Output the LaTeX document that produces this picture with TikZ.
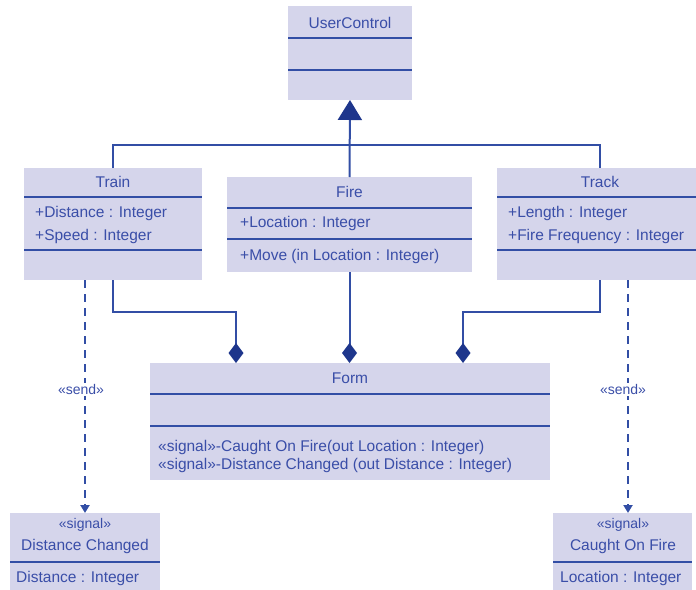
\documentclass[tikz,border=0pt]{standalone}
\usepackage{fontspec}
\newfontfamily\umlsf{Liberation Sans}
\usepackage{xcolor}
\usetikzlibrary{
	arrows.meta,
	positioning,
	calc
}
\definecolor{umlfill}{RGB}{213,213,235}
\definecolor{umlline}{RGB}{50,78,165}
\definecolor{umltext}{RGB}{58,78,168}
\definecolor{umldark}{RGB}{30,54,140}

\tikzset{
	classbox/.style={fill=umlfill,anchor=north west,inner sep=0pt,outer sep=0pt},
	umltitle/.style={text=umltext,inner sep=0pt,font=\umlsf\fontsize{15.5}{17}\selectfont},
	umlentry/.style={umltitle,anchor=west},
	stereo/.style={umltitle,font=\umlsf\fontsize{14}{16}\selectfont},
	compline/.style={draw=umlline,line width=2.4pt},
	link/.style={draw=umlline,line width=2pt},
	inherit/.style={link,-{Triangle[length=20pt,width=24pt,color=umldark]}},
	owned/.style={link,-{Diamond[length=20pt,width=15pt,color=umldark]}},
	sendline/.style={link,dash pattern=on 8pt off 6pt,-{Triangle[length=8pt,width=9pt]}},
	sendlbl/.style={fill=white,text=umltext,inner sep=1pt,font=\umlsf\fontsize{14}{16}\selectfont}
}

\begin{document}
\begin{tikzpicture}[x=1pt,y=-1pt]
	\useasboundingbox (0,0) rectangle (696,589);

	% class boxes
	\node[classbox,minimum width=124pt,minimum height=94pt] (uc) at (288,6) {};
	\node[classbox,minimum width=178pt,minimum height=112pt] (train) at (24,168) {};
	\node[classbox,minimum width=245pt,minimum height=95pt] (fire) at (227,177) {};
	\node[classbox,minimum width=206pt,minimum height=112pt] (track) at (497,168) {};
	\node[classbox,minimum width=400pt,minimum height=117pt] (form) at (150,363) {};
	\node[classbox,minimum width=150pt,minimum height=80pt] (sigL) at (10,513) {};
	\node[classbox,minimum width=139pt,minimum height=80pt] (sigR) at (553,513) {};

	% compartments
	\foreach \b/\y in {uc/38,uc/70,train/197,train/250,fire/208,fire/239,
		track/197,track/250,form/394,form/426,sigL/562,sigR/562}
	\draw[compline] (\b.west |- 0,\y) -- (\b.east |- 0,\y);

	% names
	\node[umltitle] (uc-name) at (uc.north |- 0,23) {UserControl};
	\node[umltitle] (train-name) at (train.north |- 0,182) {Train};
	\node[umltitle] (fire-name) at (fire.north |- 0,192) {Fire};
	\node[umltitle] (track-name) at (track.north |- 0,182) {Track};
	\node[umltitle] (form-name) at (form.north |- 0,378) {Form};
	\node[stereo] (sigL-st) at (sigL.north |- 0,525) {«signal»};
	\node[umltitle] (sigL-name) at (sigL.north |- 0,546) {Distance Changed};
	\node[stereo] (sigR-st) at (623,525) {«signal»};
	\node[umltitle] (sigR-name) at (623,546) {Caught On Fire};

	% members
	\node[umlentry] (train-a1) at (35,213) {+Distance : Integer};
	\node[umlentry] (train-a2) at (35,236) {+Speed : Integer};
	\node[umlentry] (fire-a1) at (240,223) {+Location : Integer};
	\node[umlentry] (fire-o1) at (240,256) {+Move (in Location : Integer)};
	\node[umlentry] (track-a1) at (508,213) {+Length : Integer};
	\node[umlentry] (track-a2) at (508,236) {+Fire Frequency : Integer};
	\node[umlentry] (form-o1) at (158,447) {«signal»-Caught On Fire(out Location : Integer)};
	\node[umlentry] (form-o2) at (158,465) {«signal»-Distance Changed (out Distance : Integer)};
	\node[umlentry] (sigL-a1) at (16,578) {Distance : Integer};
	\node[umlentry] (sigR-a1) at (560,578) {Location : Integer};

	% generalisation
	\draw[link] (train.north) |- (fire.north |- 0,145) -| (track.north);
	\draw[inherit] (fire.north) -- (uc.south);

	% composition
	\draw[owned] (train.south) -- ++(0,32) -| ([xshift=86pt]form.north west);
	\draw[owned] (fire.south) -- (fire.south |- form.north);
	\draw[owned] (track.south) -- ++(0,32) -| ([xshift=-87pt]form.north east);

	% send
	\draw[sendline] (sigL.north |- train.south) -- node[sendlbl,pos=0.47,xshift=-4pt] (sendL) {«send»} (sigL.north);
	\coordinate (sendR-end) at (628,513);
	\draw[sendline] (sendR-end |- track.south) -- node[sendlbl,pos=0.47,xshift=-5pt] (sendR) {«send»} (sendR-end);

\end{tikzpicture}
\end{document}
